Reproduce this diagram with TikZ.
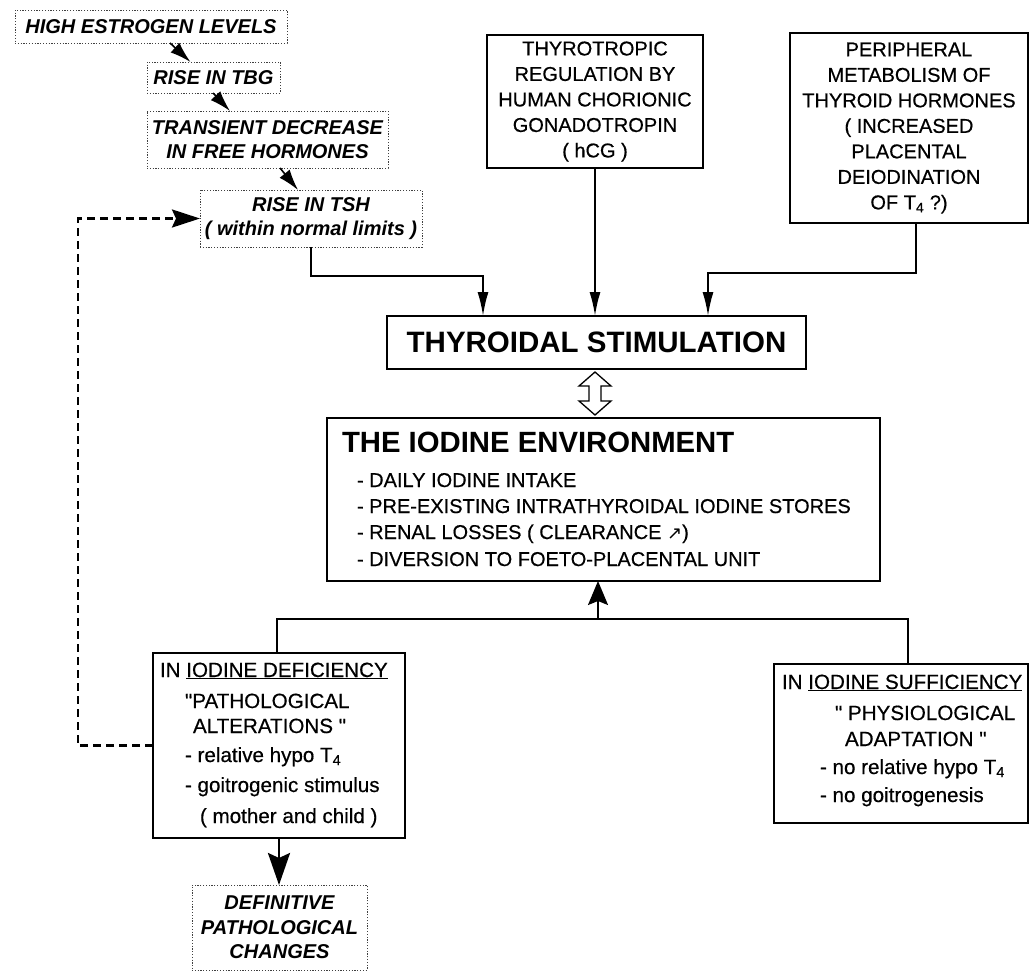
\documentclass[tikz,border=0pt]{standalone}
\usepackage{fontspec}
\setmainfont{Liberation Sans}[Ligatures=TeXOff]
\newfontfamily\bodyf{Liberation Sans}[FakeBold=0.5, Ligatures=TeXOff]
\newfontfamily\dejavu{DejaVu Sans}
\usetikzlibrary{arrows.meta}
\begin{document}
\begin{tikzpicture}[x=1pt,y=-1pt,
  every node/.style={inner sep=0pt, outer sep=0pt},
  solidbox/.style={draw, line width=1.8pt},
  dotbox/.style={draw, black!75, text=black, line width=0.9pt, dash pattern=on 1.2pt off 1.6pt},
  casc/.style={font=\fontsize{20}{23.5}\selectfont\bfseries\itshape, align=center},
  plain/.style={font=\bodyf\fontsize{20}{25.5}\selectfont, align=center},
  body/.style={font=\bodyf\fontsize{20}{24}\selectfont, anchor=base west},
  bodyb/.style={font=\bodyf\fontsize{20.6}{24}\selectfont, anchor=base west},
  conn/.style={line width=1.8pt},
  arr/.style={line width=1.8pt, -{Latex[length=24pt,width=11pt]}},
  wedge/.style={line width=1.6pt, -{Latex[length=21pt,width=13pt]}},
  uparr/.style={line width=1.8pt, -{Stealth[length=24pt,width=20pt,inset=4pt]}},
  bigarr/.style={line width=2.8pt, -{Stealth[length=32pt,width=22pt,inset=5pt]}},
  dasharr/.style={line width=2.6pt, dash pattern=on 8pt off 5pt, -{Stealth[length=28pt,width=18pt,inset=4pt]}}
]
\fill[white] (0,0) rectangle (1030,972);
\useasboundingbox (0,0) rectangle (1030,972);

% cascade (dotted boxes)
\node[dotbox, casc, minimum width=272, minimum height=33] (high) at (151,26.5) {HIGH ESTROGEN LEVELS};
\node[dotbox, casc, minimum width=133, minimum height=31] (tbg) at (213.5,77.5) {RISE IN TBG};
\node[dotbox, casc, minimum width=241, minimum height=57] (trans) at (267.5,139.5) {TRANSIENT DECREASE\\IN FREE HORMONES};
\node[dotbox, casc, minimum width=222, minimum height=57] (tsh) at (311,218.5) {RISE IN TSH\\( within normal limits )};

% top boxes
\node[solidbox, plain, minimum width=216, minimum height=133] (thyro) at (595,101.5)
  {THYROTROPIC\\REGULATION BY\\HUMAN CHORIONIC\\GONADOTROPIN\\( hCG )};
\node[solidbox, plain, minimum width=238, minimum height=190] (peri) at (909,128)
  {PERIPHERAL\\METABOLISM OF\\THYROID HORMONES\\( INCREASED\\PLACENTAL\\DEIODINATION\\OF T\textsubscript{4} ?)};

% central boxes
\node[solidbox, line width=2.4pt, minimum width=419, minimum height=53,
  font=\fontsize{29.5}{32}\selectfont\bfseries] (ts) at (596.5,342.5) {THYROIDAL STIMULATION};
\node[solidbox, line width=2.4pt, minimum width=553, minimum height=163] (iod) at (603.5,499.5) {};
\node[anchor=base west, font=\fontsize{29.3}{32}\selectfont\bfseries] (iodt) at (342,452) {THE IODINE ENVIRONMENT};
\node[body] (i1) at (357,487) {- DAILY IODINE INTAKE};
\node[body] (i2) at (357,513) {- PRE-EXISTING INTRATHYROIDAL IODINE STORES};
\node[body] (i3) at (357,539) {- RENAL LOSSES ( CLEARANCE {\dejavu\fontsize{18}{18}\selectfont ↗})};
\node[body] (i4) at (357,566) {- DIVERSION TO FOETO-PLACENTAL UNIT};

% double arrow
\draw[line width=1.3pt, fill=white] (595,372) -- (611,386) -- (601,386) -- (601,401) -- (611,401)
  -- (595,415) -- (579,401) -- (589,401) -- (589,386) -- (579,386) -- cycle;

% deficiency box
\node[solidbox, minimum width=252, minimum height=185] (def) at (279,745.5) {};
\node[bodyb] (d1) at (160,677) {IN \underline{IODINE DEFICIENCY}};
\node[bodyb] (d2) at (185,708) {"PATHOLOGICAL};
\node[bodyb] (d3) at (193,733) {ALTERATIONS "};
\node[bodyb] (d4) at (185,762) {- relative hypo T\textsubscript{4}};
\node[bodyb] (d5) at (185,792) {- goitrogenic stimulus};
\node[bodyb] (d6) at (200,823) {( mother and child )};

% sufficiency box
\node[solidbox, minimum width=254, minimum height=159] (suf) at (901,743.5) {};
\node[bodyb] (s1) at (782,689) {IN \underline{IODINE SUFFICIENCY}};
\node[bodyb] (s2) at (835,720) {" PHYSIOLOGICAL};
\node[bodyb] (s3) at (845,746) {ADAPTATION "};
\node[bodyb] (s4) at (820,774) {- no relative hypo T\textsubscript{4}};
\node[bodyb] (s5) at (820,802) {- no goitrogenesis};

% definitive
\node[dotbox, font=\fontsize{20}{24.5}\selectfont\bfseries\itshape, align=center,
  minimum width=175, minimum height=85] (defin) at (279.5,927.5) {DEFINITIVE\\PATHOLOGICAL\\CHANGES};

% cascade arrows
\draw[wedge] ([xshift=19pt]high.south) -- ([xshift=-23pt]tbg.north);
\draw[wedge] ([xshift=-0.5pt]tbg.south) -- ([xshift=-37.5pt]trans.north);
\draw[wedge] ([xshift=12.5pt]trans.south) -- ([xshift=-13pt]tsh.north);

% into thyroidal stimulation
\coordinate (j1) at (483,276);
\draw[arr] (tsh.south) |- (j1) -- (j1 |- ts.north);
\draw[arr] (thyro.south) -- (thyro.south |- ts.north);
\coordinate (j2) at (708,273);
\draw[arr] ([xshift=7pt]peri.south) |- (j2) -- (j2 |- ts.north);

% tree below iodine environment
\coordinate (j3) at (598,619);
\draw[uparr] (j3) -- (j3 |- iod.south);
\draw[conn] ([xshift=-2pt]def.north) |- (j3) -| ([xshift=7pt]suf.north);

% to definitive changes
\draw[bigarr] (def.south) -- (def.south |- defin.north);

% feedback dashed
\coordinate (fb) at (78,218.5);
\draw[dasharr] (def.west) -| (fb) -- (tsh.west);
\end{tikzpicture}
\end{document}
